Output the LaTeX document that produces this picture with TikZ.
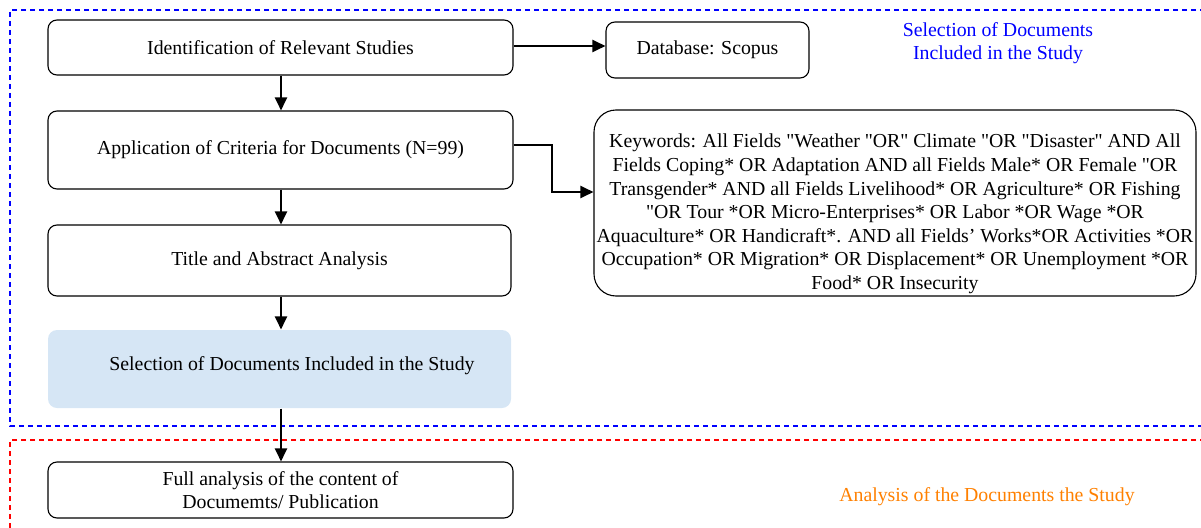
\documentclass[tikz,border=0pt]{standalone}
\usepackage{fontspec}
\setmainfont{Liberation Serif}[Ligatures=TeXOff]
\usetikzlibrary{arrows.meta,calc}
\begin{document}
\begin{tikzpicture}[x=1pt,y=-1pt,
  box/.style={draw=black,line width=1.1pt,rounded corners=9pt,align=center,inner sep=2pt,font=\fontsize{19.8}{23}\selectfont},
  txt/.style={align=center,inner sep=0pt,font=\fontsize{19.8}{23}\selectfont},
  arr/.style={line width=2.3pt,-{Triangle[length=13pt,width=12pt]}},
  frame/.style={dashed,line width=1.3pt,dash pattern=on 5pt off 4pt}]
\useasboundingbox (0,0) rectangle (1201,527);
\draw[frame,blue] (1205,10) -- (10,10) -- (10,426) -- (1205,426);
\draw[frame,red] (1205,440) -- (10,440) -- (10,530);
\node[box,minimum width=465pt,minimum height=55pt] (ident) at (280.5,47.5) {Identification of Relevant Studies};
\node[box,minimum width=203pt,minimum height=56pt] (db) at (707.5,50) {Database: Scopus};
\node[box,minimum width=465pt,minimum height=78pt] (app) at (280.5,150) {Application of Criteria for Documents (N=99)};
\node[box,minimum width=602pt,minimum height=186pt,rounded corners=22pt] (kw) at (895,203) {};
\node[txt,font=\fontsize{19.8}{23.6}\selectfont] (kwtext) at (895,214) {Keywords: All Fields "Weather "OR" Climate "OR "Disaster" AND All\\Fields Coping* OR Adaptation AND all Fields Male* OR Female "OR\\Transgender* AND all Fields Livelihood* OR Agriculture* OR Fishing\\"OR Tour *OR Micro-Enterprises* OR Labor *OR Wage *OR\\Aquaculture* OR Handicraft*. AND all Fields’ Works*OR Activities *OR\\Occupation* OR Migration* OR Displacement* OR Unemployment *OR\\Food* OR Insecurity};
\node[box,minimum width=463pt,minimum height=71pt] (title) at (279.5,260.5) {Title and Abstract Analysis};
\node[box,draw=none,fill={rgb,255:red,214;green,230;blue,245},minimum width=463pt,minimum height=78pt] (sel) at (279.5,369) {};
\node[txt] (seltext) at (292,366) {Selection of Documents Included in the Study};
\node[box,minimum width=465pt,minimum height=56pt] (full) at (280.5,490) {Full analysis of the content of\\Documemts/ Publication};
\node[txt,blue,font=\fontsize{19.8}{22.5}\selectfont] (lab1) at (998,43) {Selection of Documents\\Included in the Study};
\node[txt,orange] (lab2) at (987,497) {Analysis of the Documents the Study};
\coordinate (bend1) at (552,145);
\coordinate (bend2) at (552,192);
\draw[arr] (ident.east |- 0,46) -- (db.west |- 0,46);
\draw[arr] (ident.south -| 281,0) -- (app.north -| 281,0);
\draw[arr] (app.east |- bend1) -- (bend1) -- (bend2) -- (kw.west |- bend2);
\draw[arr] (app.south -| 281,0) -- (title.north -| 281,0);
\draw[arr] (title.south -| 281,0) -- (sel.north -| 281,0);
\draw[arr] (sel.south -| 281,0) -- (full.north -| 281,0);
\end{tikzpicture}
\end{document}
